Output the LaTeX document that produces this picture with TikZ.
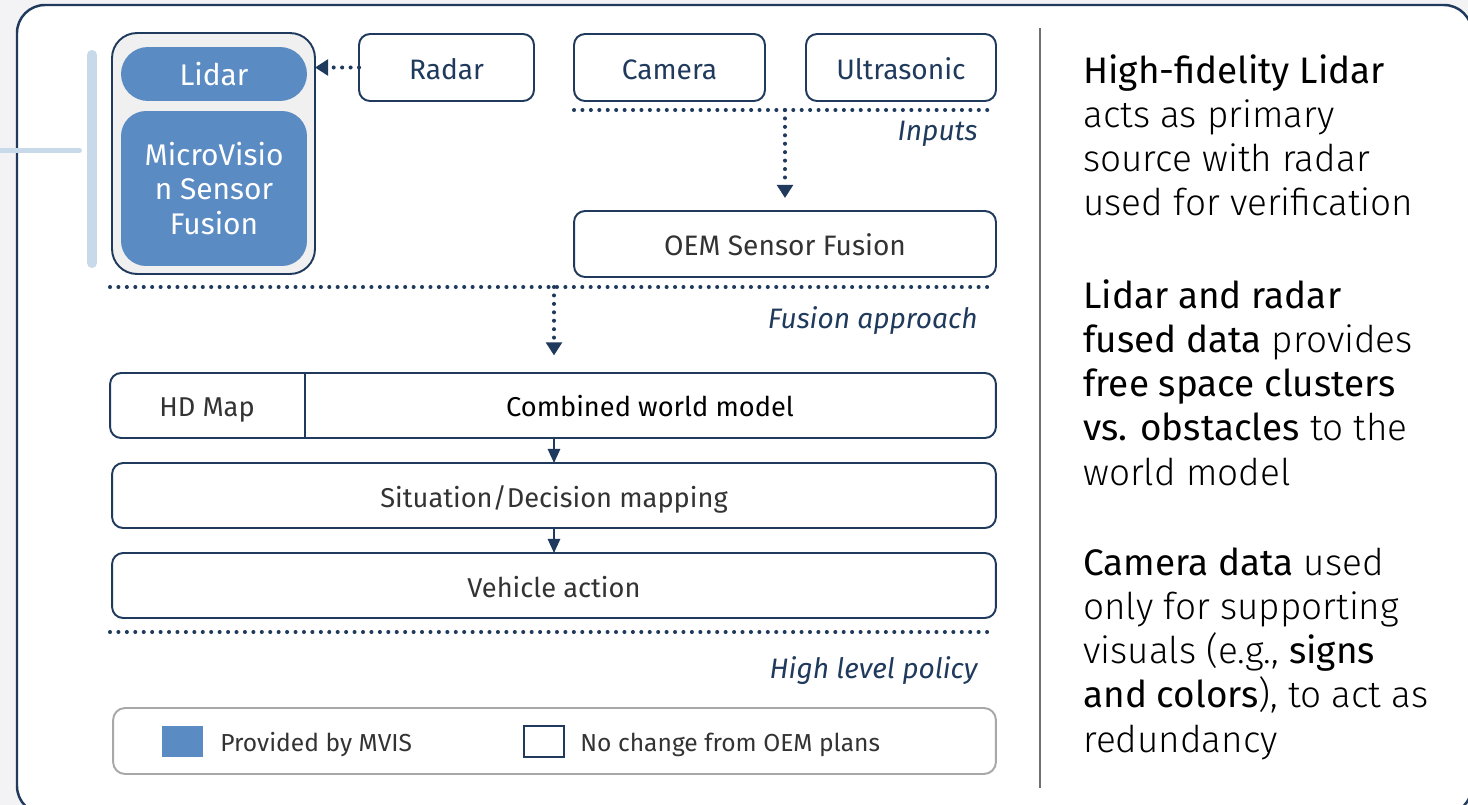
\documentclass[tikz,border=0pt]{standalone}
\usepackage{fontspec}
\setmainfont{Fira Sans}
\newfontfamily\regfont{Fira Sans}
\newfontfamily\lightfont{Fira Sans Light}
\usetikzlibrary{arrows.meta}
\definecolor{navy}{HTML}{1F3A5C}
\definecolor{mblue}{HTML}{5B8BC3}
\definecolor{lbar}{HTML}{C8D9E9}
\definecolor{cgrey}{HTML}{F0F0F0}
\definecolor{bgout}{HTML}{F3F3F5}
\definecolor{txtgrey}{HTML}{333333}
\definecolor{legline}{HTML}{A8A8A8}
\definecolor{sepline}{HTML}{707070}
\tikzset{
  box/.style={draw=navy, line width=1.1pt, rounded corners=0.22cm, fill=white, inner sep=0pt, outer sep=0pt,
    font=\fontsize{15.5}{18}\selectfont, text=navy, text height=13.5pt, text depth=0pt},
  greybox/.style={box, text=txtgrey},
  bluebox/.style={fill=mblue, draw=none, inner sep=0pt, outer sep=0pt, text=white, align=center,
    font=\fontsize{17}{19.8}\selectfont},
  dotline/.style={draw=navy, line width=2.3pt, dash pattern=on 0pt off 4.8pt, line cap=round},
  dotarrow/.style={dotline, -{Triangle[width=9pt,length=7.5pt]}},
  solidarrow/.style={draw=navy, line width=1.1pt, -{Triangle[width=7pt,length=8pt]}},
  lab/.style={font=\fontsize{16}{19}\selectfont\itshape, text=navy, anchor=east, inner sep=0pt},
  txt/.style={font=\fontsize{15.5}{18}\selectfont, inner sep=0pt, text height=12.4pt, text depth=0pt},
  legtxt/.style={font=\fontsize{14}{17}\selectfont, text=txtgrey, anchor=west, inner sep=0pt, text height=9.8pt, text depth=0pt},
  rtext/.style={anchor=north west, inner sep=0pt, align=left, text=black,
    font=\lightfont\fontsize{21}{25.2}\selectfont},
}
\begin{document}
\begin{tikzpicture}[x=0.02cm,y=-0.02cm]
\useasboundingbox (0,0) rectangle (1468,805);
\fill[bgout] (0,0) rectangle (1468,805);
\draw[navy, line width=1.4pt, fill=white, rounded corners=0.56cm] (17,5) rectangle (1472,814);

% left decoration
\draw[lbar, line width=5.7pt, line cap=round] (92,55) -- (92,263);
\draw[lbar, line width=3.4pt, line cap=round] (-5,150.5) -- (79,150.5);

% MVIS container
\node[draw=navy, line width=1.1pt, fill=cgrey, rounded corners=0.5cm, minimum width=4.06cm, minimum height=4.82cm, inner sep=0pt, outer sep=0pt] (cont) at (213.5,153.5) {};
\node[bluebox, rounded corners=0.54cm, minimum width=3.72cm, minimum height=1.08cm] (lidar) at (214,74) {Lidar};
\node[bluebox, rounded corners=0.5cm, minimum width=3.72cm, minimum height=3.1cm] (mvf) at (214,188.5) {MicroVisio\\n Sensor\\Fusion};

% inputs
\node[box, minimum width=3.5cm, minimum height=1.34cm, font=\fontsize{16}{19}\selectfont, text height=14pt] (radar) at (446.5,67.5) {Radar};
\node[box, minimum width=3.82cm, minimum height=1.34cm, font=\fontsize{16}{19}\selectfont, text height=14pt] (camera) at (669.5,67.5) {Camera};
\node[box, minimum width=3.8cm, minimum height=1.34cm, font=\fontsize{16}{19}\selectfont, text height=14pt] (ultra) at (901,67.5) {Ultrasonic};
\draw[dotarrow] (radar.west) -- (cont.east |- radar.west);

\coordinate (inL) at (574,110);
\coordinate (inR) at (990,110);
\coordinate (inM) at (785,110);
\draw[dotline] (inL) -- (inR);
\node[lab] (inputs) at (978,134) {Inputs};

\node[greybox, minimum width=8.44cm, minimum height=1.32cm, font=\fontsize{16}{19}\selectfont, text height=13.6pt] (oem) at (785,244) {OEM Sensor Fusion};
\draw[dotarrow, shorten >=7.4pt] (inM) -- (inM |- oem.north);

% fusion approach
\coordinate (fuL) at (110,287);
\coordinate (fuR) at (990,287);
\coordinate (fuM) at (554,287);
\draw[dotline] (fuL) -- (fuR);
\node[lab] (fusion) at (978,321) {Fusion approach};

% world model
\node[box, minimum width=17.72cm, minimum height=1.3cm] (world) at (553,405.5) {};
\coordinate (dv) at (305,405);
\draw[navy, line width=1.1pt] (dv |- world.north) -- (dv |- world.south);
\node[txt, text=txtgrey] (hd) at (207,405.5) {HD Map};
\node[txt, text=black] (cwm) at (650,405.5) {Combined world model};
\draw[dotarrow, shorten >=10pt] (fuM) -- (fuM |- world.north);

\node[greybox, minimum width=17.68cm, minimum height=1.3cm] (sit) at (554,495.5) {Situation/Decision mapping};
\node[greybox, minimum width=17.68cm, minimum height=1.3cm] (veh) at (554,585.5) {Vehicle action};
\draw[solidarrow] (world.south -| fuM) -- (sit.north -| fuM);
\draw[solidarrow] (sit.south -| fuM) -- (veh.north -| fuM);

% high level policy
\coordinate (hpL) at (110,632);
\coordinate (hpR) at (990,632);
\draw[dotline] (hpL) -- (hpR);
\node[lab] (policy) at (978,671) {High level policy};

% legend
\node[draw=legline, line width=1.1pt, rounded corners=0.24cm, minimum width=17.66cm, minimum height=1.32cm, inner sep=0pt, fill=white] (legend) at (554.5,741) {};
\node[fill=mblue, minimum width=0.82cm, minimum height=0.62cm, inner sep=0pt] (lgblue) at (182.5,741.5) {};
\node[draw=navy, line width=1.1pt, fill=white, minimum width=0.8cm, minimum height=0.62cm, inner sep=0pt] (lgwhite) at (544,741.5) {};
\node[legtxt] (lgt1) at (220,743) {Provided by MVIS};
\node[legtxt] (lgt2) at (580,743) {No change from OEM plans};

% separator
\draw[sepline, line width=1.2pt] (1040,28) -- (1040,788);

% right text
\node[rtext] (p1) at (1083,54) {{\regfont High-fidelity Lidar}\\acts as primary\\source with radar\\used for verification};
\node[rtext] (p2) at (1083,279) {{\regfont Lidar and radar}\\{\regfont fused data} provides\\{\regfont free space clusters}\\{\regfont vs. obstacles} to the\\world model};
\node[rtext] (p3) at (1083,547) {{\regfont Camera data} used\\only for supporting\\visuals (e.g., {\regfont signs}\\{\regfont and colors}), to act as\\redundancy};
\end{tikzpicture}
\end{document}
